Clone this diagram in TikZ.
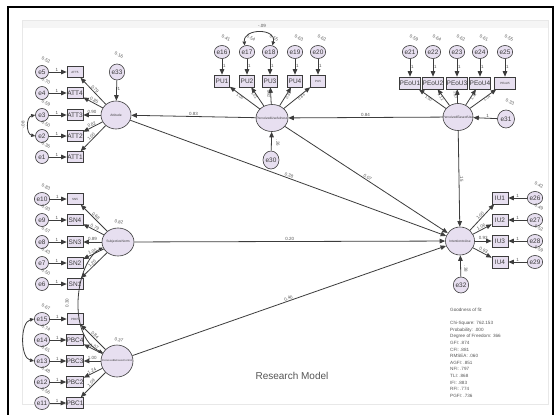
\documentclass[tikz,border=0pt]{standalone}
\usepackage{fontspec}
\setmainfont{Liberation Sans}
\usetikzlibrary{arrows.meta,shapes.geometric}
\definecolor{lav}{HTML}{E7DFF0}
\definecolor{edgec}{HTML}{3C3C3C}
\definecolor{lbl}{HTML}{555555}
\newcommand\smallbox{\fontsize{3}{3}\selectfont}
\newcommand\normbox{\fontsize{6.5}{7}\selectfont}
\begin{document}
\begin{tikzpicture}[x=1pt,y=-1pt,
  lat/.style={ellipse,draw=edgec,fill=lav,line width=0.6pt,inner sep=0pt},
  lattext/.style={font=\fontsize{3.3}{3.5}\selectfont,text=edgec,inner sep=0pt},
  obs/.style={rectangle,draw=edgec,fill=lav,line width=0.6pt,inner sep=0pt,minimum width=16pt,minimum height=11pt,text=edgec},
  err/.style={ellipse,draw=edgec,fill=lav,line width=0.6pt,inner sep=0pt,minimum width=13pt,minimum height=13pt,font=\fontsize{6.5}{7}\selectfont,text=edgec},
  num/.style={font=\fontsize{4.5}{5}\selectfont,text=lbl,inner sep=0.6pt},
  snum/.style={font=\fontsize{3.8}{4}\selectfont,text=lbl,inner sep=0.3pt},
  arr/.style={draw=edgec,line width=0.8pt,-{Triangle[length=5.5pt,width=4.5pt]}},
  cov/.style={draw=edgec,line width=0.8pt,{Triangle[length=4pt,width=3.5pt]}-{Triangle[length=4pt,width=3.5pt]}},
  gof/.style={font=\fontsize{4.6}{6.6}\selectfont,text=lbl,align=left,inner sep=0pt}
]
\useasboundingbox (0,0) rectangle (557,415);
\clip (0,0) rectangle (557,415);
\fill[white] (0,0) rectangle (557,415);
% frame
\fill[gray!8] (22,20) rectangle (548,28);
\draw[gray!18] (22,20) rectangle (548,404);
\draw[line width=1.4pt] (8,425) -- (8,7) -- (553,7) -- (553,425);

% latent variables
\node[lat,minimum width=30pt,minimum height=28pt] (att) at (116,115) {};
\node[lattext] (att-t) at (att) {Attitude};
\node[lat,minimum width=32pt,minimum height=28pt] (sn) at (118,242) {};
\node[lattext] (sn-t) at (sn) {SubjectiveNorm};
\node[lat,minimum width=32pt,minimum height=32pt] (pbc) at (117,361) {};
\node[lattext,font=\fontsize{2.6}{3}\selectfont] (pbc-t) at (pbc) {PerceivedBehaviorControl};
\node[lat,minimum width=32pt,minimum height=27pt] (pu) at (272,118) {};
\node[lattext] (pu-t) at (pu) {PerceivedUsefulness};
\node[lat,minimum width=30pt,minimum height=27pt] (peou) at (458,117) {};
\node[lattext] (peou-t) at (peou) {PerceivedEaseofUse};
\node[lat,minimum width=29pt,minimum height=28pt] (int) at (460,241) {};
\node[lattext] (int-t) at (int) {IntentiontoUse};

% latent variances
\node[num,rotate=-15] (vsn) at (119,222) {0.82};
\node[num,rotate=-15] (vpbc) at (119,340) {0.37};

% residual errors
\node[err,minimum width=14pt,minimum height=16pt] (e33) at (117,72) {e33};
\node[num,rotate=-20] (v33) at (119,55) {0.16};
\draw[arr] (e33) -- node[num,right,pos=0.4]{1} (att);
\node[err,minimum width=16pt,minimum height=18pt] (e30) at (271,160) {e30};
\draw[arr] (e30) -- (pu);
\node[num,rotate=-90] (v30) at (278,143) {.26};
\node[err,minimum width=17pt,minimum height=18pt] (e31) at (506,119) {e31};
\node[num,rotate=-20] (v31) at (510,102) {0.33};
\draw[arr] (e31) -- node[num,above,pos=0.4]{1} (peou);
\node[err,minimum width=14pt,minimum height=16pt] (e32) at (461,285) {e32};
\draw[arr] (e32) -- (int);
\node[num,rotate=-90] (v32) at (466,269) {.38};

% ATT indicators
\foreach \i/\en/\y/\va/\l/\f in {5/e5/72/0.52/0.79/\smallbox, 4/e4/93/0.70/0.85/\normbox, 3/e3/115/0.59/0.90/\normbox, 2/e2/136/0.50/0.82/\normbox, 1/e1/157/0.36/1.00/\normbox}{
  \node[err] (\en) at (42,\y) {\en};
  \node[num,rotate=-20] (v\en) at (46,\y-12) {\va};
  \node[obs,font=\f] (att\i) at (75,\y) {ATT\i};
  \draw[arr] (\en) -- node[num,above,pos=0.45]{1} (att\i);
  \draw[arr] (att) -- node[num,sloped,above]{\l} (att\i);
}
% SN indicators
\foreach \i/\en/\y/\va/\l/\f in {5/e10/199/0.83/0.68/\smallbox, 4/e9/220/0.93/0.79/\normbox, 3/e8/242/0.57/0.89/\normbox, 2/e7/263/0.43/1.05/\normbox, 1/e6/284/0.50/1.20/\normbox}{
  \node[err] (\en) at (42,\y) {\en};
  \node[num,rotate=-20] (v\en) at (46,\y-12) {\va};
  \node[obs,font=\f] (sn\i) at (75,\y) {SN\i};
  \draw[arr] (\en) -- node[num,above,pos=0.45]{1} (sn\i);
  \draw[arr] (sn) -- node[num,sloped,above]{\l} (sn\i);
}
% PBC indicators
\foreach \i/\en/\y/\va/\l/\f in {5/e15/319/0.67/0.84/\smallbox, 4/e14/340/0.74/1.07/\normbox, 3/e13/361/0.61/1.00/\normbox, 2/e12/382/0.48/1.24/\normbox, 1/e11/403/0.56/1.09/\normbox}{
  \node[err] (\en) at (42,\y) {\en};
  \node[num,rotate=-20] (v\en) at (46,\y-12) {\va};
  \node[obs,font=\f] (pbc\i) at (75,\y) {PBC\i};
  \draw[arr] (\en) -- node[num,above,pos=0.45]{1} (pbc\i);
  \draw[arr] (pbc) -- node[num,sloped,above]{\l} (pbc\i);
}
% PU indicators
\foreach \i/\en/\x/\va/\l/\f in {1/e16/222/0.41/1.00/\normbox, 2/e17/247/0.54/1.01/\normbox, 3/e18/270/0.55/0.92/\normbox, 4/e19/295/0.63/0.85/\normbox, 5/e20/318/0.62/0.86/\smallbox}{
  \node[err,minimum width=12pt] (\en) at (\x,52) {\en};
  \node[num,rotate=-20] (v\en) at (\x+4,38) {\va};
  \node[obs,font=\f,minimum width=15pt,minimum height=12pt] (pu\i) at (\x,81) {PU\i};
  \draw[arr] (\en) -- node[num,right,pos=0.45]{1} (pu\i);
  \draw[arr] (pu) -- node[snum,sloped,below,pos=0.62]{\l} (pu\i);
}
% PEoU indicators
\foreach \i/\en/\x/\va/\l/\f in {1/e21/410/0.59/1.00/\normbox, 2/e22/433/0.64/1.12/\normbox, 3/e23/457/0.62/1.07/\normbox, 4/e24/480/0.61/1.11/\normbox, 5/e25/505/0.55/1.04/\smallbox}{
  \node[err,minimum width=12pt] (\en) at (\x,52) {\en};
  \node[num,rotate=-20] (v\en) at (\x+4,38) {\va};
  \node[obs,font=\f,minimum width=21pt,minimum height=12pt] (pe\i) at (\x,83) {PEoU\i};
  \draw[arr] (\en) -- node[num,right,pos=0.45]{1} (pe\i);
  \draw[arr] (peou) -- node[snum,sloped,below,pos=0.6]{\l} (pe\i);
}
% IU indicators
\foreach \i/\en/\y/\va/\l in {1/e26/198/0.42/1.00, 2/e27/220/0.49/1.06, 3/e28/241/0.52/0.93, 4/e29/262/0.59/0.93}{
  \node[err,minimum width=15pt] (\en) at (535,\y) {\en};
  \node[num,rotate=-20] (v\en) at (539,\y-13) {\va};
  \node[obs,font=\normbox,minimum width=16pt,minimum height=12pt] (iu\i) at (500,\y) {IU\i};
  \draw[arr] (\en) -- node[num,above,pos=0.5]{1} (iu\i);
  \draw[arr] (int) -- node[num,sloped,above]{\l} (iu\i);
}

% covariances
\draw[cov] (e3.west) .. controls (26,117) and (26,134) .. (e2.west);
\node[num,rotate=90] (c32) at (23,125) {-.08};
\draw[cov] (e15.west) .. controls (20,322) and (20,358) .. (e13.west);
\draw[cov] (sn.200) .. controls (76,262) and (66,335) .. (pbc.150);
\node[num,rotate=90] (csp) at (67,303) {0.30};
\draw[cov] (e17.110) .. controls (243,28) and (277,28) .. (e18.70);
\node[num] (c1718) at (262,26) {-.09};

% structural paths
\draw[arr] (peou) -- node[num,above]{0.84} (pu);
\draw[arr] (pu) -- node[num,above]{0.83} (att);
\draw[arr] (att) -- node[num,sloped,above]{0.38} (int);
\draw[arr] (pu) -- node[num,sloped,above]{0.07} (int);
\draw[arr] (peou) -- node[num,sloped,above]{.15} (int);
\draw[arr] (sn) -- node[num,above]{0.20} (int);
\draw[arr] (pbc) -- node[num,sloped,above]{0.40} (int);

% texts
\node[font=\fontsize{10}{12}\selectfont,text=lbl] (title) at (292,376) {Research Model};
\node[gof,anchor=north west] (fit) at (450,308) {Goodness of fit:\\[6.6pt]
Chi-Square: 762.153\\
Probability: .000\\
Degree of Freedom: 366\\
GFI: .874\\
CFI: .881\\
RMSEA: .060\\
AGFI: .851\\
NFI: .797\\
TLI: .868\\
IFI: .883\\
RFI: .774\\
PGFI: .736};
\end{tikzpicture}
\end{document}
